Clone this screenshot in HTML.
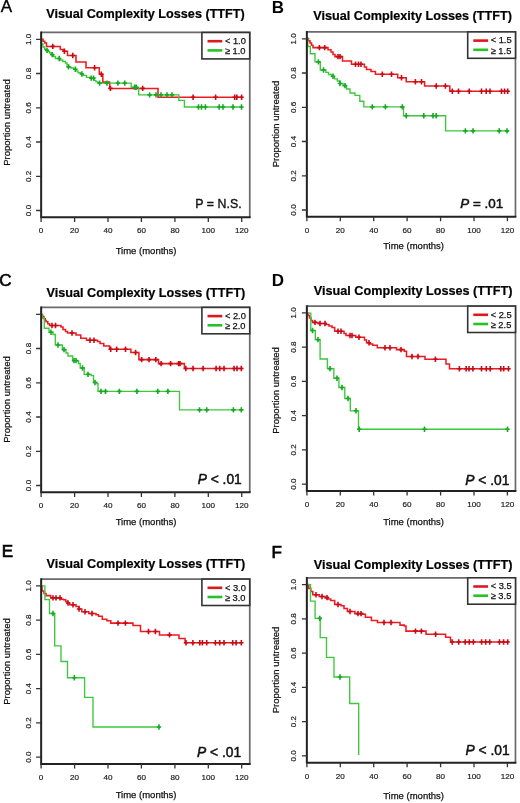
<!DOCTYPE html><html><head><meta charset="utf-8"><style>html,body{margin:0;padding:0;background:#fff;}svg{display:block;filter:blur(0.45px);}text{font-family:"Liberation Sans",sans-serif;}</style></head><body>
<svg width="520" height="803" viewBox="0 0 520 803">
<rect width="520" height="803" fill="#fff"/>
<g><text x="0.73" y="12.30" font-size="17" fill="#000" stroke="#000" stroke-width="0.35">A</text><text x="46.2" y="17.6" font-size="12.65" font-weight="bold" fill="#000" stroke="#000" stroke-width="0.2">Visual Complexity Losses (TTFT)</text><path d="M41.3 39.2H43.0V41.2H44.8V43.0H46.5V46.4H60.3V49.5H63.5V51.3H67.5V55.5H76.0V62.0H86.0V67.8H99.3V74.3H102.8V82.1H109.7V88.4H158.0V97.3H242.5" fill="none" stroke="#ec1c22" stroke-width="1.55" stroke-linejoin="miter"/><path d="M52.8 43.7V49.1M50.6 46.4H55.0M64.4 48.6V54.0M62.2 51.3H66.6M72.8 52.8V58.2M70.6 55.5H75.0M94.6 65.1V70.5M92.4 67.8H96.8M101.3 71.6V77.0M99.1 74.3H103.5M110.4 85.7V91.1M108.2 88.4H112.6M142.7 85.7V91.1M140.5 88.4H144.9M193.1 94.6V100.0M190.9 97.3H195.3M215.6 94.6V100.0M213.4 97.3H217.8M234.7 94.6V100.0M232.5 97.3H236.9M236.8 94.6V100.0M234.6 97.3H239.0M241.6 94.6V100.0M239.4 97.3H243.8" fill="none" stroke="#c80c16" stroke-width="1.6"/><path d="M41.3 39.2H41.6V44.0H43.0V47.0H44.6V49.2H46.2V50.4H47.7V51.5H49.6V53.0H51.5V54.6H53.5V56.5H55.4V58.5H60.0V60.0H62.7V61.5H65.4V63.0H67.0V65.0H68.5V66.9H71.0V68.0H73.8V69.2H75.5V70.8H78.0V72.7H80.4V74.0H82.7V75.4H86.5V77.3H91.2V78.1H94.2V80.4H96.0V81.8H98.0V83.1H131.2V87.3H138.7V94.9H178.8V100.4H184.4V107.0H242.5" fill="none" stroke="#3cc83c" stroke-width="1.35" stroke-linejoin="miter"/><path d="M47.0 47.7V53.1M44.8 50.4H49.2M52.3 51.9V57.3M50.1 54.6H54.5M59.2 55.8V61.2M57.0 58.5H61.4M68.5 64.2V69.6M66.3 66.9H70.7M75.4 66.5V71.9M73.2 69.2H77.6M81.9 71.3V76.7M79.7 74.0H84.1M91.2 75.4V80.8M89.0 78.1H93.4M93.5 75.4V80.8M91.3 78.1H95.7M99.6 80.4V85.8M97.4 83.1H101.8M106.9 80.4V85.8M104.7 83.1H109.1M117.9 80.4V85.8M115.7 83.1H120.1M124.8 80.4V85.8M122.6 83.1H127.0M134.6 84.6V90.0M132.4 87.3H136.8M136.3 84.6V90.0M134.1 87.3H138.5M149.6 92.2V97.6M147.4 94.9H151.8M156.0 92.2V97.6M153.8 94.9H158.2M161.0 92.2V97.6M158.8 94.9H163.2M167.0 92.2V97.6M164.8 94.9H169.2M172.0 92.2V97.6M169.8 94.9H174.2M198.5 104.3V109.7M196.3 107.0H200.7M201.5 104.3V109.7M199.3 107.0H203.7M205.4 104.3V109.7M203.2 107.0H207.6M219.2 104.3V109.7M217.0 107.0H221.4M223.0 104.3V109.7M220.8 107.0H225.2M233.0 104.3V109.7M230.8 107.0H235.2M241.5 104.3V109.7M239.3 107.0H243.7" fill="none" stroke="#18a824" stroke-width="1.6"/><path d="M41.15 32.45H249.75V217.35" fill="none" stroke="#6a6a6a" stroke-width="1.7"/><path d="M41.15 31.55V217.35H250.65" fill="none" stroke="#222" stroke-width="2"/><path d="M36.1 210.5H41.1M36.1 176.3H41.1M36.1 142.0H41.1M36.1 107.8H41.1M36.1 73.5H41.1M36.1 39.3H41.1M41.1 217.4V221.9M74.6 217.4V221.9M108.0 217.4V221.9M141.4 217.4V221.9M174.9 217.4V221.9M208.3 217.4V221.9M241.7 217.4V221.9" stroke="#333" stroke-width="1.3" fill="none"/><text transform="translate(30.5 210.5) rotate(-90)" font-size="8.1" text-anchor="middle" fill="#222" stroke="#222" stroke-width="0.2">0.0</text><text transform="translate(30.5 176.3) rotate(-90)" font-size="8.1" text-anchor="middle" fill="#222" stroke="#222" stroke-width="0.2">0.2</text><text transform="translate(30.5 142.0) rotate(-90)" font-size="8.1" text-anchor="middle" fill="#222" stroke="#222" stroke-width="0.2">0.4</text><text transform="translate(30.5 107.8) rotate(-90)" font-size="8.1" text-anchor="middle" fill="#222" stroke="#222" stroke-width="0.2">0.6</text><text transform="translate(30.5 73.5) rotate(-90)" font-size="8.1" text-anchor="middle" fill="#222" stroke="#222" stroke-width="0.2">0.8</text><text transform="translate(30.5 39.3) rotate(-90)" font-size="8.1" text-anchor="middle" fill="#222" stroke="#222" stroke-width="0.2">1.0</text><text x="41.1" y="233.3" font-size="8.1" text-anchor="middle" fill="#222" stroke="#222" stroke-width="0.2">0</text><text x="74.6" y="233.3" font-size="8.1" text-anchor="middle" fill="#222" stroke="#222" stroke-width="0.2">20</text><text x="108.0" y="233.3" font-size="8.1" text-anchor="middle" fill="#222" stroke="#222" stroke-width="0.2">40</text><text x="141.4" y="233.3" font-size="8.1" text-anchor="middle" fill="#222" stroke="#222" stroke-width="0.2">60</text><text x="174.9" y="233.3" font-size="8.1" text-anchor="middle" fill="#222" stroke="#222" stroke-width="0.2">80</text><text x="208.3" y="233.3" font-size="8.1" text-anchor="middle" fill="#222" stroke="#222" stroke-width="0.2">100</text><text x="241.7" y="233.3" font-size="8.1" text-anchor="middle" fill="#222" stroke="#222" stroke-width="0.2">120</text><text transform="translate(10.0 122.5) rotate(-90)" font-size="9.5" text-anchor="middle" fill="#111" stroke="#111" stroke-width="0.25">Proportion untreated</text><text x="146.1" y="254.0" font-size="9.5" text-anchor="middle" fill="#111" stroke="#111" stroke-width="0.25">Time (months)</text><rect x="201.9" y="32.5" width="47.8" height="26.4" fill="#fff" stroke="#333" stroke-width="1.6"/><path d="M207.5 41.2H222.3" stroke="#dc1a1c" stroke-width="2.6"/><path d="M207.5 50.4H222.3" stroke="#26c226" stroke-width="2.6"/><text x="224.9" y="43.9" font-size="9.3" fill="#111" stroke="#111" stroke-width="0.25">&lt; 1.0</text><text x="224.9" y="54.1" font-size="9.3" fill="#111" stroke="#111" stroke-width="0.25">&#8805; 1.0</text><text x="241.9" y="208.2" font-size="12.3" letter-spacing="0.1" text-anchor="end" fill="#111" stroke="#111" stroke-width="0.35">P = N.S.</text></g>
<g><text x="271.66" y="12.70" font-size="17" font-weight="bold" fill="#000">B</text><text x="313.3" y="20.4" font-size="12.65" font-weight="bold" fill="#000" stroke="#000" stroke-width="0.2">Visual Complexity Losses (TTFT)</text><path d="M306.9 38.4H308.5V40.8H310.0V43.0H311.5V45.3H313.0V47.6H328.0V49.8H331.0V52.0H333.0V54.5H335.0V56.6H342.5V61.0H351.5V64.2H364.4V67.0H366.5V69.4H371.0V71.5H375.4V74.2H397.7V77.7H406.2V81.8H424.6V86.0H449.8V91.2H508.5" fill="none" stroke="#ec1c22" stroke-width="1.55" stroke-linejoin="miter"/><path d="M319.4 44.9V50.3M317.2 47.6H321.6M324.7 44.9V50.3M322.5 47.6H326.9M338.0 53.9V59.3M335.8 56.6H340.2M340.0 53.9V59.3M337.8 56.6H342.2M355.5 61.5V66.9M353.3 64.2H357.7M358.5 61.5V66.9M356.3 64.2H360.7M361.0 61.5V66.9M358.8 64.2H363.2M382.3 71.5V76.9M380.1 74.2H384.5M391.5 71.5V76.9M389.3 74.2H393.7M401.5 75.0V80.4M399.3 77.7H403.7M415.4 79.1V84.5M413.2 81.8H417.6M421.5 79.1V84.5M419.3 81.8H423.7M436.2 83.3V88.7M434.0 86.0H438.4M445.4 83.3V88.7M443.2 86.0H447.6M452.3 88.5V93.9M450.1 91.2H454.5M458.5 88.5V93.9M456.3 91.2H460.7M469.2 88.5V93.9M467.0 91.2H471.4M481.5 88.5V93.9M479.3 91.2H483.7M486.2 88.5V93.9M484.0 91.2H488.4M490.0 88.5V93.9M487.8 91.2H492.2M501.5 88.5V93.9M499.3 91.2H503.7M504.6 88.5V93.9M502.4 91.2H506.8M507.7 88.5V93.9M505.5 91.2H509.9" fill="none" stroke="#c80c16" stroke-width="1.6"/><path d="M306.9 38.4H307.8V46.5H310.3V53.7H315.0V61.9H320.3V70.0H325.8V72.3H328.5V74.5H331.5V76.3H334.5V78.8H337.3V81.0H340.0V83.5H343.0V85.6H346.5V89.0H350.0V93.0H355.0V95.4H359.8V101.2H363.8V106.9H403.5V115.7H445.6V130.9H508.5" fill="none" stroke="#3cc83c" stroke-width="1.35" stroke-linejoin="miter"/><path d="M318.4 59.2V64.6M316.2 61.9H320.6M323.5 67.3V72.7M321.3 70.0H325.7M333.0 73.6V79.0M330.8 76.3H335.2M340.0 80.8V86.2M337.8 83.5H342.2M345.0 82.9V88.3M342.8 85.6H347.2M372.3 104.2V109.6M370.1 106.9H374.5M385.4 104.2V109.6M383.2 106.9H387.6M402.3 104.2V109.6M400.1 106.9H404.5M406.2 113.0V118.4M404.0 115.7H408.4M423.8 113.0V118.4M421.6 115.7H426.0M433.0 113.0V118.4M430.8 115.7H435.2M436.2 113.0V118.4M434.0 115.7H438.4M465.4 128.2V133.6M463.2 130.9H467.6M473.0 128.2V133.6M470.8 130.9H475.2M499.2 128.2V133.6M497.0 130.9H501.4M507.0 128.2V133.6M504.8 130.9H509.2" fill="none" stroke="#18a824" stroke-width="1.6"/><path d="M306.85 31.95H515.45V216.85" fill="none" stroke="#6a6a6a" stroke-width="1.7"/><path d="M306.85 31.05V216.85H516.35" fill="none" stroke="#222" stroke-width="2"/><path d="M301.9 210.0H306.9M301.9 175.8H306.9M301.9 141.5H306.9M301.9 107.3H306.9M301.9 73.0H306.9M301.9 38.8H306.9M306.9 216.8V221.3M340.3 216.8V221.3M373.7 216.8V221.3M407.1 216.8V221.3M440.6 216.8V221.3M474.0 216.8V221.3M507.4 216.8V221.3" stroke="#333" stroke-width="1.3" fill="none"/><text transform="translate(296.2 210.0) rotate(-90)" font-size="8.1" text-anchor="middle" fill="#222" stroke="#222" stroke-width="0.2">0.0</text><text transform="translate(296.2 175.8) rotate(-90)" font-size="8.1" text-anchor="middle" fill="#222" stroke="#222" stroke-width="0.2">0.2</text><text transform="translate(296.2 141.5) rotate(-90)" font-size="8.1" text-anchor="middle" fill="#222" stroke="#222" stroke-width="0.2">0.4</text><text transform="translate(296.2 107.3) rotate(-90)" font-size="8.1" text-anchor="middle" fill="#222" stroke="#222" stroke-width="0.2">0.6</text><text transform="translate(296.2 73.0) rotate(-90)" font-size="8.1" text-anchor="middle" fill="#222" stroke="#222" stroke-width="0.2">0.8</text><text transform="translate(296.2 38.8) rotate(-90)" font-size="8.1" text-anchor="middle" fill="#222" stroke="#222" stroke-width="0.2">1.0</text><text x="306.9" y="232.8" font-size="8.1" text-anchor="middle" fill="#222" stroke="#222" stroke-width="0.2">0</text><text x="340.3" y="232.8" font-size="8.1" text-anchor="middle" fill="#222" stroke="#222" stroke-width="0.2">20</text><text x="373.7" y="232.8" font-size="8.1" text-anchor="middle" fill="#222" stroke="#222" stroke-width="0.2">40</text><text x="407.1" y="232.8" font-size="8.1" text-anchor="middle" fill="#222" stroke="#222" stroke-width="0.2">60</text><text x="440.6" y="232.8" font-size="8.1" text-anchor="middle" fill="#222" stroke="#222" stroke-width="0.2">80</text><text x="474.0" y="232.8" font-size="8.1" text-anchor="middle" fill="#222" stroke="#222" stroke-width="0.2">100</text><text x="507.4" y="232.8" font-size="8.1" text-anchor="middle" fill="#222" stroke="#222" stroke-width="0.2">120</text><text transform="translate(279.3 124.0) rotate(-90)" font-size="9.5" text-anchor="middle" fill="#111" stroke="#111" stroke-width="0.25">Proportion untreated</text><text x="413.6" y="249.2" font-size="9.5" text-anchor="middle" fill="#111" stroke="#111" stroke-width="0.25">Time (months)</text><rect x="467.7" y="31.9" width="47.8" height="26.4" fill="#fff" stroke="#333" stroke-width="1.6"/><path d="M473.3 40.6H488.1" stroke="#dc1a1c" stroke-width="2.6"/><path d="M473.3 49.8H488.1" stroke="#26c226" stroke-width="2.6"/><text x="490.7" y="43.4" font-size="9.3" fill="#111" stroke="#111" stroke-width="0.25">&lt; 1.5</text><text x="490.7" y="53.5" font-size="9.3" fill="#111" stroke="#111" stroke-width="0.25">&#8805; 1.5</text><text x="503.2" y="208.0" font-size="13.4" text-anchor="end" fill="#111" stroke="#111" stroke-width="0.5"><tspan font-style="italic">P</tspan> = .01</text></g>
<g><text x="-0.70" y="286.10" font-size="17" fill="#000" stroke="#000" stroke-width="0.6">C</text><text x="46.6" y="296.5" font-size="12.65" font-weight="bold" fill="#000" stroke="#000" stroke-width="0.2">Visual Complexity Losses (TTFT)</text><path d="M41.3 314.4H42.5V316.5H44.0V318.8H45.2V320.5H46.1V321.8H47.8V323.8H49.5V325.5H61.0V327.0H63.0V329.5H65.5V331.5H67.5V333.0H76.0V335.0H80.8V338.3H86.5V340.3H97.5V341.5H100.0V343.5H103.8V346.0H109.6V349.3H130.9V352.5H138.9V359.6H158.5V363.6H184.4V368.5H242.8" fill="none" stroke="#ec1c22" stroke-width="1.55" stroke-linejoin="miter"/><path d="M52.0 322.8V328.2M49.8 325.5H54.2M55.5 322.8V328.2M53.3 325.5H57.7M72.0 330.3V335.7M69.8 333.0H74.2M90.0 337.6V343.0M87.8 340.3H92.2M94.0 337.6V343.0M91.8 340.3H96.2M110.7 346.6V352.0M108.5 349.3H112.9M116.7 346.6V352.0M114.5 349.3H118.9M125.5 346.6V352.0M123.3 349.3H127.7M135.6 349.8V355.2M133.4 352.5H137.8M141.6 356.9V362.3M139.4 359.6H143.8M149.0 356.9V362.3M146.8 359.6H151.2M155.8 356.9V362.3M153.6 359.6H158.0M161.1 360.9V366.3M158.9 363.6H163.3M170.6 360.9V366.3M168.4 363.6H172.8M178.6 360.9V366.3M176.4 363.6H180.8M180.0 360.9V366.3M177.8 363.6H182.2M185.8 365.8V371.2M183.6 368.5H188.0M193.0 365.8V371.2M190.8 368.5H195.2M203.1 365.8V371.2M200.9 368.5H205.3M216.1 365.8V371.2M213.9 368.5H218.3M219.7 365.8V371.2M217.5 368.5H221.9M224.0 365.8V371.2M221.8 368.5H226.2M234.1 365.8V371.2M231.9 368.5H236.3M237.0 365.8V371.2M234.8 368.5H239.2M241.3 365.8V371.2M239.1 368.5H243.5" fill="none" stroke="#c80c16" stroke-width="1.6"/><path d="M41.3 314.4H42.3V318.0H44.3V328.2H49.0V332.2H53.0V334.5H55.3V345.0H62.3V349.6H66.0V353.0H68.0V356.0H72.7V360.6H78.5V363.5H80.2V368.0H84.2V374.4H91.2V375.6H93.5V382.5H97.0V383.7H98.0V391.4H179.5V409.9H242.8" fill="none" stroke="#3cc83c" stroke-width="1.35" stroke-linejoin="miter"/><path d="M51.0 329.5V334.9M48.8 332.2H53.2M58.0 342.3V347.7M55.8 345.0H60.2M64.0 346.9V352.3M61.8 349.6H66.2M74.0 357.9V363.3M71.8 360.6H76.2M76.0 357.9V363.3M73.8 360.6H78.2M82.5 365.3V370.7M80.3 368.0H84.7M88.0 371.7V377.1M85.8 374.4H90.2M95.0 379.8V385.2M92.8 382.5H97.2M101.0 388.7V394.1M98.8 391.4H103.2M105.5 388.7V394.1M103.3 391.4H107.7M119.4 388.7V394.1M117.2 391.4H121.6M136.9 388.7V394.1M134.7 391.4H139.1M157.8 388.7V394.1M155.6 391.4H160.0M167.9 388.7V394.1M165.7 391.4H170.1M199.5 407.2V412.6M197.3 409.9H201.7M206.7 407.2V412.6M204.5 409.9H208.9M233.4 407.2V412.6M231.2 409.9H235.6M241.3 407.2V412.6M239.1 409.9H243.5" fill="none" stroke="#18a824" stroke-width="1.6"/><path d="M41.15 307.45H249.75V492.35" fill="none" stroke="#6a6a6a" stroke-width="1.7"/><path d="M41.15 306.55V492.35H250.65" fill="none" stroke="#222" stroke-width="2"/><path d="M36.1 485.5H41.1M36.1 451.3H41.1M36.1 417.0H41.1M36.1 382.8H41.1M36.1 348.5H41.1M36.1 314.3H41.1M41.1 492.4V496.9M74.6 492.4V496.9M108.0 492.4V496.9M141.4 492.4V496.9M174.9 492.4V496.9M208.3 492.4V496.9M241.7 492.4V496.9" stroke="#333" stroke-width="1.3" fill="none"/><text transform="translate(30.5 485.5) rotate(-90)" font-size="8.1" text-anchor="middle" fill="#222" stroke="#222" stroke-width="0.2">0.0</text><text transform="translate(30.5 451.3) rotate(-90)" font-size="8.1" text-anchor="middle" fill="#222" stroke="#222" stroke-width="0.2">0.2</text><text transform="translate(30.5 417.0) rotate(-90)" font-size="8.1" text-anchor="middle" fill="#222" stroke="#222" stroke-width="0.2">0.4</text><text transform="translate(30.5 382.8) rotate(-90)" font-size="8.1" text-anchor="middle" fill="#222" stroke="#222" stroke-width="0.2">0.6</text><text transform="translate(30.5 348.5) rotate(-90)" font-size="8.1" text-anchor="middle" fill="#222" stroke="#222" stroke-width="0.2">0.8</text><text x="41.1" y="508.2" font-size="8.1" text-anchor="middle" fill="#222" stroke="#222" stroke-width="0.2">0</text><text x="74.6" y="508.2" font-size="8.1" text-anchor="middle" fill="#222" stroke="#222" stroke-width="0.2">20</text><text x="108.0" y="508.2" font-size="8.1" text-anchor="middle" fill="#222" stroke="#222" stroke-width="0.2">40</text><text x="141.4" y="508.2" font-size="8.1" text-anchor="middle" fill="#222" stroke="#222" stroke-width="0.2">60</text><text x="174.9" y="508.2" font-size="8.1" text-anchor="middle" fill="#222" stroke="#222" stroke-width="0.2">80</text><text x="208.3" y="508.2" font-size="8.1" text-anchor="middle" fill="#222" stroke="#222" stroke-width="0.2">100</text><text x="241.7" y="508.2" font-size="8.1" text-anchor="middle" fill="#222" stroke="#222" stroke-width="0.2">120</text><text transform="translate(10.0 399.5) rotate(-90)" font-size="9.5" text-anchor="middle" fill="#111" stroke="#111" stroke-width="0.25">Proportion untreated</text><text x="146.1" y="525.2" font-size="9.5" text-anchor="middle" fill="#111" stroke="#111" stroke-width="0.25">Time (months)</text><rect x="201.9" y="307.4" width="47.8" height="26.4" fill="#fff" stroke="#333" stroke-width="1.6"/><path d="M207.5 316.1H222.3" stroke="#dc1a1c" stroke-width="2.6"/><path d="M207.5 325.3H222.3" stroke="#26c226" stroke-width="2.6"/><text x="224.9" y="318.8" font-size="9.3" fill="#111" stroke="#111" stroke-width="0.25">&lt; 2.0</text><text x="224.9" y="329.1" font-size="9.3" fill="#111" stroke="#111" stroke-width="0.25">&#8805; 2.0</text><text x="241.8" y="483.8" font-size="13.8" text-anchor="end" fill="#111" stroke="#111" stroke-width="0.5"><tspan font-style="italic">P</tspan> < .01</text></g>
<g><text x="271.80" y="286.30" font-size="17" font-weight="bold" fill="#000">D</text><text x="313.8" y="295.4" font-size="12.65" font-weight="bold" fill="#000" stroke="#000" stroke-width="0.2">Visual Complexity Losses (TTFT)</text><path d="M306.9 313.1H308.0V315.5H309.5V318.0H311.0V320.5H312.5V322.4H318.0V323.5H326.0V324.5H329.0V326.0H332.0V327.5H334.7V331.3H344.0V333.5H346.0V335.5H355.8V337.3H364.5V340.0H366.5V342.7H370.0V344.0H372.7V345.2H377.3V347.8H396.5V349.6H404.2V351.2H406.5V356.5H425.0V359.2H446.0V364.0H449.5V368.8H509.4" fill="none" stroke="#ec1c22" stroke-width="1.55" stroke-linejoin="miter"/><path d="M315.0 319.7V325.1M312.8 322.4H317.2M320.0 320.8V326.2M317.8 323.5H322.2M325.0 320.8V326.2M322.8 323.5H327.2M338.0 328.6V334.0M335.8 331.3H340.2M341.0 328.6V334.0M338.8 331.3H343.2M350.0 332.8V338.2M347.8 335.5H352.2M352.0 332.8V338.2M349.8 335.5H354.2M359.0 334.6V340.0M356.8 337.3H361.2M369.0 340.0V345.4M366.8 342.7H371.2M385.0 345.1V350.5M382.8 347.8H387.2M390.0 345.1V350.5M387.8 347.8H392.2M401.0 346.9V352.3M398.8 349.6H403.2M412.0 353.8V359.2M409.8 356.5H414.2M418.0 353.8V359.2M415.8 356.5H420.2M435.4 356.5V361.9M433.2 359.2H437.6M459.4 366.1V371.5M457.2 368.8H461.6M466.2 366.1V371.5M464.0 368.8H468.4M469.0 366.1V371.5M466.8 368.8H471.2M472.9 366.1V371.5M470.7 368.8H475.1M481.5 366.1V371.5M479.3 368.8H483.7M486.3 366.1V371.5M484.1 368.8H488.5M490.2 366.1V371.5M488.0 368.8H492.4M500.8 366.1V371.5M498.6 368.8H503.0M503.7 366.1V371.5M501.5 368.8H505.9M508.5 366.1V371.5M506.3 368.8H510.7" fill="none" stroke="#c80c16" stroke-width="1.6"/><path d="M306.9 313.1H310.8V330.5H315.3V339.6H320.1V359.0H327.4V368.6H333.8V378.2H338.9V387.5H344.8V398.5H350.3V410.8H358.5V429.2H508.5" fill="none" stroke="#3cc83c" stroke-width="1.35" stroke-linejoin="miter"/><path d="M312.5 327.8V333.2M310.3 330.5H314.7M318.0 336.9V342.3M315.8 339.6H320.2M330.0 365.9V371.3M327.8 368.6H332.2M337.0 375.5V380.9M334.8 378.2H339.2M342.0 384.8V390.2M339.8 387.5H344.2M348.0 395.8V401.2M345.8 398.5H350.2M356.0 408.1V413.5M353.8 410.8H358.2M359.2 426.5V431.9M357.0 429.2H361.4M424.5 426.5V431.9M422.3 429.2H426.7M507.5 426.5V431.9M505.3 429.2H509.7" fill="none" stroke="#18a824" stroke-width="1.6"/><path d="M306.85 306.10H515.45V491.00" fill="none" stroke="#6a6a6a" stroke-width="1.7"/><path d="M306.85 305.20V491.00H516.35" fill="none" stroke="#222" stroke-width="2"/><path d="M301.9 484.2H306.9M301.9 449.9H306.9M301.9 415.7H306.9M301.9 381.4H306.9M301.9 347.2H306.9M301.9 312.9H306.9M306.9 491.0V495.5M340.3 491.0V495.5M373.7 491.0V495.5M407.1 491.0V495.5M440.6 491.0V495.5M474.0 491.0V495.5M507.4 491.0V495.5" stroke="#333" stroke-width="1.3" fill="none"/><text transform="translate(296.2 484.2) rotate(-90)" font-size="8.1" text-anchor="middle" fill="#222" stroke="#222" stroke-width="0.2">0.0</text><text transform="translate(296.2 449.9) rotate(-90)" font-size="8.1" text-anchor="middle" fill="#222" stroke="#222" stroke-width="0.2">0.2</text><text transform="translate(296.2 415.7) rotate(-90)" font-size="8.1" text-anchor="middle" fill="#222" stroke="#222" stroke-width="0.2">0.4</text><text transform="translate(296.2 381.4) rotate(-90)" font-size="8.1" text-anchor="middle" fill="#222" stroke="#222" stroke-width="0.2">0.6</text><text transform="translate(296.2 347.2) rotate(-90)" font-size="8.1" text-anchor="middle" fill="#222" stroke="#222" stroke-width="0.2">0.8</text><text transform="translate(296.2 312.9) rotate(-90)" font-size="8.1" text-anchor="middle" fill="#222" stroke="#222" stroke-width="0.2">1.0</text><text x="306.9" y="506.9" font-size="8.1" text-anchor="middle" fill="#222" stroke="#222" stroke-width="0.2">0</text><text x="340.3" y="506.9" font-size="8.1" text-anchor="middle" fill="#222" stroke="#222" stroke-width="0.2">20</text><text x="373.7" y="506.9" font-size="8.1" text-anchor="middle" fill="#222" stroke="#222" stroke-width="0.2">40</text><text x="407.1" y="506.9" font-size="8.1" text-anchor="middle" fill="#222" stroke="#222" stroke-width="0.2">60</text><text x="440.6" y="506.9" font-size="8.1" text-anchor="middle" fill="#222" stroke="#222" stroke-width="0.2">80</text><text x="474.0" y="506.9" font-size="8.1" text-anchor="middle" fill="#222" stroke="#222" stroke-width="0.2">100</text><text x="507.4" y="506.9" font-size="8.1" text-anchor="middle" fill="#222" stroke="#222" stroke-width="0.2">120</text><text transform="translate(279.3 390.4) rotate(-90)" font-size="9.5" text-anchor="middle" fill="#111" stroke="#111" stroke-width="0.25">Proportion untreated</text><text x="413.6" y="524.8" font-size="9.5" text-anchor="middle" fill="#111" stroke="#111" stroke-width="0.25">Time (months)</text><rect x="467.7" y="306.1" width="47.8" height="26.4" fill="#fff" stroke="#333" stroke-width="1.6"/><path d="M473.3 314.8H488.1" stroke="#dc1a1c" stroke-width="2.6"/><path d="M473.3 324.0H488.1" stroke="#26c226" stroke-width="2.6"/><text x="490.7" y="317.5" font-size="9.3" fill="#111" stroke="#111" stroke-width="0.25">&lt; 2.5</text><text x="490.7" y="327.7" font-size="9.3" fill="#111" stroke="#111" stroke-width="0.25">&#8805; 2.5</text><text x="509.4" y="484.8" font-size="13.8" text-anchor="end" fill="#111" stroke="#111" stroke-width="0.5"><tspan font-style="italic">P</tspan> < .01</text></g>
<g><text x="1.86" y="557.30" font-size="17" fill="#000" stroke="#000" stroke-width="0.7">E</text><text x="46.6" y="568.2" font-size="12.65" font-weight="bold" fill="#000" stroke="#000" stroke-width="0.2">Visual Complexity Losses (TTFT)</text><path d="M41.3 585.9H42.0V591.0H44.0V593.5H46.0V595.6H50.7V597.9H61.0V599.3H63.5V599.8H65.7V601.5H67.7V603.0H69.7V604.8H76.0V606.5H79.0V609.0H81.8V611.7H88.8V613.5H96.0V614.8H98.5V616.2H102.3V619.2H106.9V620.8H110.8V623.1H133.0V625.4H140.5V631.5H159.5V634.9H179.0V638.4H185.1V642.7H242.2" fill="none" stroke="#ec1c22" stroke-width="1.55" stroke-linejoin="miter"/><path d="M53.0 595.2V600.6M50.8 597.9H55.2M56.0 595.2V600.6M53.8 597.9H58.2M60.0 595.2V600.6M57.8 597.9H62.2M68.0 600.3V605.7M65.8 603.0H70.2M73.0 602.1V607.5M70.8 604.8H75.2M79.0 606.3V611.7M76.8 609.0H81.2M85.0 609.0V614.4M82.8 611.7H87.2M92.0 610.8V616.2M89.8 613.5H94.2M118.0 620.4V625.8M115.8 623.1H120.2M125.4 620.4V625.8M123.2 623.1H127.6M148.5 628.8V634.2M146.3 631.5H150.7M155.4 628.8V634.2M153.2 631.5H157.6M169.5 632.2V637.6M167.3 634.9H171.7M186.0 640.0V645.4M183.8 642.7H188.2M192.9 640.0V645.4M190.7 642.7H195.1M199.8 640.0V645.4M197.6 642.7H202.0M202.4 640.0V645.4M200.2 642.7H204.6M206.7 640.0V645.4M204.5 642.7H208.9M215.4 640.0V645.4M213.2 642.7H217.6M219.7 640.0V645.4M217.5 642.7H221.9M224.0 640.0V645.4M221.8 642.7H226.2M232.7 640.0V645.4M230.5 642.7H234.9M236.1 640.0V645.4M233.9 642.7H238.3M241.3 640.0V645.4M239.1 642.7H243.5" fill="none" stroke="#c80c16" stroke-width="1.6"/><path d="M41.3 585.9H44.9V599.6H49.5V613.5H54.7V645.8H61.0V661.5H67.5V677.7H84.6V697.4H93.0V727.0H160.0" fill="none" stroke="#3cc83c" stroke-width="1.35" stroke-linejoin="miter"/><path d="M53.0 610.8V616.2M50.8 613.5H55.2M74.3 675.0V680.4M72.1 677.7H76.5M159.0 724.3V729.7M156.8 727.0H161.2" fill="none" stroke="#18a824" stroke-width="1.6"/><path d="M41.15 579.10H249.75V764.00" fill="none" stroke="#6a6a6a" stroke-width="1.7"/><path d="M41.15 578.20V764.00H250.65" fill="none" stroke="#222" stroke-width="2"/><path d="M36.1 757.2H41.1M36.1 722.9H41.1M36.1 688.7H41.1M36.1 654.4H41.1M36.1 620.2H41.1M36.1 585.9H41.1M41.1 764.0V768.5M74.6 764.0V768.5M108.0 764.0V768.5M141.4 764.0V768.5M174.9 764.0V768.5M208.3 764.0V768.5M241.7 764.0V768.5" stroke="#333" stroke-width="1.3" fill="none"/><text transform="translate(30.5 757.2) rotate(-90)" font-size="8.1" text-anchor="middle" fill="#222" stroke="#222" stroke-width="0.2">0.0</text><text transform="translate(30.5 722.9) rotate(-90)" font-size="8.1" text-anchor="middle" fill="#222" stroke="#222" stroke-width="0.2">0.2</text><text transform="translate(30.5 688.7) rotate(-90)" font-size="8.1" text-anchor="middle" fill="#222" stroke="#222" stroke-width="0.2">0.4</text><text transform="translate(30.5 654.4) rotate(-90)" font-size="8.1" text-anchor="middle" fill="#222" stroke="#222" stroke-width="0.2">0.6</text><text transform="translate(30.5 620.2) rotate(-90)" font-size="8.1" text-anchor="middle" fill="#222" stroke="#222" stroke-width="0.2">0.8</text><text transform="translate(30.5 585.9) rotate(-90)" font-size="8.1" text-anchor="middle" fill="#222" stroke="#222" stroke-width="0.2">1.0</text><text x="41.1" y="779.9" font-size="8.1" text-anchor="middle" fill="#222" stroke="#222" stroke-width="0.2">0</text><text x="74.6" y="779.9" font-size="8.1" text-anchor="middle" fill="#222" stroke="#222" stroke-width="0.2">20</text><text x="108.0" y="779.9" font-size="8.1" text-anchor="middle" fill="#222" stroke="#222" stroke-width="0.2">40</text><text x="141.4" y="779.9" font-size="8.1" text-anchor="middle" fill="#222" stroke="#222" stroke-width="0.2">60</text><text x="174.9" y="779.9" font-size="8.1" text-anchor="middle" fill="#222" stroke="#222" stroke-width="0.2">80</text><text x="208.3" y="779.9" font-size="8.1" text-anchor="middle" fill="#222" stroke="#222" stroke-width="0.2">100</text><text x="241.7" y="779.9" font-size="8.1" text-anchor="middle" fill="#222" stroke="#222" stroke-width="0.2">120</text><text transform="translate(10.0 661.5) rotate(-90)" font-size="9.5" text-anchor="middle" fill="#111" stroke="#111" stroke-width="0.25">Proportion untreated</text><text x="146.1" y="798.1" font-size="9.5" text-anchor="middle" fill="#111" stroke="#111" stroke-width="0.25">Time (months)</text><rect x="201.9" y="579.1" width="47.8" height="26.4" fill="#fff" stroke="#333" stroke-width="1.6"/><path d="M207.5 587.8H222.3" stroke="#dc1a1c" stroke-width="2.6"/><path d="M207.5 597.0H222.3" stroke="#26c226" stroke-width="2.6"/><text x="224.9" y="590.5" font-size="9.3" fill="#111" stroke="#111" stroke-width="0.25">&lt; 3.0</text><text x="224.9" y="600.7" font-size="9.3" fill="#111" stroke="#111" stroke-width="0.25">&#8805; 3.0</text><text x="241.2" y="757.0" font-size="13.8" text-anchor="end" fill="#111" stroke="#111" stroke-width="0.5"><tspan font-style="italic">P</tspan> < .01</text></g>
<g><text x="271.56" y="557.70" font-size="17" fill="#000" stroke="#000" stroke-width="0.7">F</text><text x="313.8" y="568.5" font-size="12.65" font-weight="bold" fill="#000" stroke="#000" stroke-width="0.2">Visual Complexity Losses (TTFT)</text><path d="M306.9 584.6H308.8V588.4H310.8V591.5H312.8V594.7H319.2V596.5H324.9V597.6H328.0V599.0H330.7V600.5H334.7V604.5H341.0V605.7H344.0V608.5H347.4V611.5H354.9V613.6H363.0V614.3H365.4V617.3H371.4V620.4H377.5V622.5H400.0V625.1H404.3V626.0H406.0V631.1H426.0V634.3H445.6V637.2H450.5V642.0H508.5" fill="none" stroke="#ec1c22" stroke-width="1.55" stroke-linejoin="miter"/><path d="M316.0 592.0V597.4M313.8 594.7H318.2M322.0 593.8V599.2M319.8 596.5H324.2M327.0 594.9V600.3M324.8 597.6H329.2M338.0 601.8V607.2M335.8 604.5H340.2M350.0 608.8V614.2M347.8 611.5H352.2M358.0 610.9V616.3M355.8 613.6H360.2M361.0 610.9V616.3M358.8 613.6H363.2M384.0 619.8V625.2M381.8 622.5H386.2M391.0 619.8V625.2M388.8 622.5H393.2M415.5 628.4V633.8M413.3 631.1H417.7M421.4 628.4V633.8M419.2 631.1H423.6M435.6 631.6V637.0M433.4 634.3H437.8M452.2 639.3V644.7M450.0 642.0H454.4M458.7 639.3V644.7M456.5 642.0H460.9M465.2 639.3V644.7M463.0 642.0H467.4M469.3 639.3V644.7M467.1 642.0H471.5M473.4 639.3V644.7M471.2 642.0H475.6M481.6 639.3V644.7M479.4 642.0H483.8M485.7 639.3V644.7M483.5 642.0H487.9M489.7 639.3V644.7M487.5 642.0H491.9M499.5 639.3V644.7M497.3 642.0H501.7M503.6 639.3V644.7M501.4 642.0H505.8M507.7 639.3V644.7M505.5 642.0H509.9" fill="none" stroke="#c80c16" stroke-width="1.6"/><path d="M306.9 584.6H310.5V601.1H315.1V618.4H320.2V637.6H326.5V657.4H334.0V677.0H349.7V703.5H358.7V755.1" fill="none" stroke="#3cc83c" stroke-width="1.35" stroke-linejoin="miter"/><path d="M319.8 615.7V621.1M317.6 618.4H322.0M340.0 674.3V679.7M337.8 677.0H342.2" fill="none" stroke="#18a824" stroke-width="1.6"/><path d="M306.85 577.80H515.45V762.70" fill="none" stroke="#6a6a6a" stroke-width="1.7"/><path d="M306.85 576.90V762.70H516.35" fill="none" stroke="#222" stroke-width="2"/><path d="M301.9 755.9H306.9M301.9 721.6H306.9M301.9 687.4H306.9M301.9 653.1H306.9M301.9 618.9H306.9M301.9 584.6H306.9M306.9 762.7V767.2M340.3 762.7V767.2M373.7 762.7V767.2M407.1 762.7V767.2M440.6 762.7V767.2M474.0 762.7V767.2M507.4 762.7V767.2" stroke="#333" stroke-width="1.3" fill="none"/><text transform="translate(296.2 755.9) rotate(-90)" font-size="8.1" text-anchor="middle" fill="#222" stroke="#222" stroke-width="0.2">0.0</text><text transform="translate(296.2 721.6) rotate(-90)" font-size="8.1" text-anchor="middle" fill="#222" stroke="#222" stroke-width="0.2">0.2</text><text transform="translate(296.2 687.4) rotate(-90)" font-size="8.1" text-anchor="middle" fill="#222" stroke="#222" stroke-width="0.2">0.4</text><text transform="translate(296.2 653.1) rotate(-90)" font-size="8.1" text-anchor="middle" fill="#222" stroke="#222" stroke-width="0.2">0.6</text><text transform="translate(296.2 618.9) rotate(-90)" font-size="8.1" text-anchor="middle" fill="#222" stroke="#222" stroke-width="0.2">0.8</text><text transform="translate(296.2 584.6) rotate(-90)" font-size="8.1" text-anchor="middle" fill="#222" stroke="#222" stroke-width="0.2">1.0</text><text x="306.9" y="778.6" font-size="8.1" text-anchor="middle" fill="#222" stroke="#222" stroke-width="0.2">0</text><text x="340.3" y="778.6" font-size="8.1" text-anchor="middle" fill="#222" stroke="#222" stroke-width="0.2">20</text><text x="373.7" y="778.6" font-size="8.1" text-anchor="middle" fill="#222" stroke="#222" stroke-width="0.2">40</text><text x="407.1" y="778.6" font-size="8.1" text-anchor="middle" fill="#222" stroke="#222" stroke-width="0.2">60</text><text x="440.6" y="778.6" font-size="8.1" text-anchor="middle" fill="#222" stroke="#222" stroke-width="0.2">80</text><text x="474.0" y="778.6" font-size="8.1" text-anchor="middle" fill="#222" stroke="#222" stroke-width="0.2">100</text><text x="507.4" y="778.6" font-size="8.1" text-anchor="middle" fill="#222" stroke="#222" stroke-width="0.2">120</text><text transform="translate(279.3 669.9) rotate(-90)" font-size="9.5" text-anchor="middle" fill="#111" stroke="#111" stroke-width="0.25">Proportion untreated</text><text x="413.6" y="798.6" font-size="9.5" text-anchor="middle" fill="#111" stroke="#111" stroke-width="0.25">Time (months)</text><rect x="467.7" y="577.8" width="47.8" height="26.4" fill="#fff" stroke="#333" stroke-width="1.6"/><path d="M473.3 586.5H488.1" stroke="#dc1a1c" stroke-width="2.6"/><path d="M473.3 595.7H488.1" stroke="#26c226" stroke-width="2.6"/><text x="490.7" y="589.2" font-size="9.3" fill="#111" stroke="#111" stroke-width="0.25">&lt; 3.5</text><text x="490.7" y="599.4" font-size="9.3" fill="#111" stroke="#111" stroke-width="0.25">&#8805; 3.5</text><text x="509.6" y="755.0" font-size="13.8" text-anchor="end" fill="#111" stroke="#111" stroke-width="0.5"><tspan font-style="italic">P</tspan> < .01</text></g>
</svg></body></html>
